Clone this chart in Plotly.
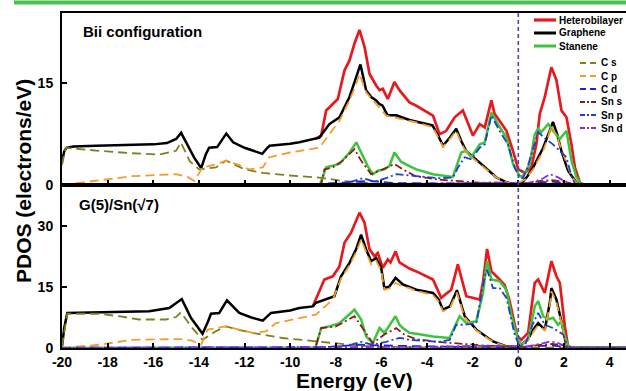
import plotly.graph_objects as go

# ---------------- DATA ----------------
x_ticks = [-20, -18, -16, -14, -12, -10, -8, -6, -4, -2, 0, 2, 4]
y_ticks_top = [0, 15]
y_ticks_bot = [0, 15, 30]
panel_labels = ["Bii configuration", "G(5)/Sn(\u221a7)"]
series_names = ["Heterobilayer", "Graphene", "Stanene", "C s", "C p", "C d", "Sn s", "Sn p", "Sn d"]

# ---- top panel (Bii configuration) ----
top_het_E = [-8.9, -8.64, -8.42, -8.13, -7.91, -7.62, -7.4, -7.18, -6.96, -6.74, -6.52, -6.23, -6.08, -5.94, -5.72,
             -5.43, -5.21, -4.77, -4.47, -3.74, -3.45, -3.16, -2.79, -2.43, -2.21, -1.99, -1.69, -1.47, -1.18, -1.04,
             -0.82, -0.52, -0.23, 0.0, 0.28, 0.57, 0.79, 0.94, 1.16, 1.38, 1.45, 1.67, 1.89, 2.11, 2.33, 2.48, 2.7,
             2.9, 4.8]
top_het_v = [6.8, 7.3, 11.0, 12.0, 12.7, 16.9, 18.4, 20.9, 22.9, 20.4, 16.4, 14.7, 14.0, 14.2, 12.7,
             15.2, 14.0, 12.2, 11.7, 10.25, 7.5, 8.0, 10.0, 11.0, 9.0, 7.3, 9.0, 8.5, 12.5, 10.5,
             9.5, 8.0, 5.0, 2.3, 1.8, 2.6, 6.0, 10.5, 13.0, 16.4, 17.4, 15.5, 11.0, 10.0, 6.0, 2.6, 0.35,
             0.05, 0.05]

top_gra_E = [-20.0, -19.9, -19.8, -19.5, -18.5, -17.0, -16.0, -15.4, -15.0, -14.78, -14.5, -14.2, -13.9, -13.7,
             -13.55, -13.2, -12.8, -12.5, -12.0, -11.5, -11.22, -11.0, -10.9, -10.0, -9.6, -8.72, -8.4, -8.28,
             -7.84, -7.4, -7.15, -6.92, -6.8, -6.67, -6.45, -6.23, -6.1, -5.95, -5.73, -5.35, -4.77, -4.2, -3.76,
             -3.5, -3.3, -3.0, -2.72, -2.5, -2.28, -1.69, -0.96, -0.5, -0.23, 0.0, 0.2, 0.4, 0.65, 1.09, 1.3,
             1.52, 1.7, 1.89, 2.18, 2.55, 2.8, 4.8]
top_gra_v = [3.5, 5.0, 5.5, 5.7, 5.8, 5.9, 6.0, 6.2, 6.8, 7.7, 6.0, 4.0, 2.5, 4.5,
             5.5, 5.6, 7.6, 6.3, 5.5, 4.9, 4.6, 5.5, 5.8, 6.1, 6.3, 7.0, 8.5, 9.0,
             10.0, 13.0, 15.5, 17.8, 16.0, 14.0, 13.0, 12.5, 12.0, 11.7, 10.3, 10.3, 9.6, 9.2, 8.8,
             7.2, 5.8, 7.0, 8.3, 6.5, 5.0, 3.3, 1.1, 0.4, 0.1, 0.2, 0.5, 1.3, 2.6, 5.5, 7.5,
             9.3, 7.5, 5.0, 2.1, 0.35, 0.05, 0.05]

top_sta_E = [-20.0, -8.75, -8.69, -8.42, -8.13, -7.84, -7.4, -7.1, -6.89, -6.6, -6.38, -6.16, -5.87, -5.65, -5.43,
             -5.13, -4.77, -4.47, -3.74, -2.87, -2.5, -2.28, -2.06, -1.69, -1.47, -1.18, -0.89, -0.52, -0.23, 0.06,
             0.21, 0.5, 0.72, 0.87, 1.01, 1.31, 1.52, 1.82, 2.11, 2.33, 2.55, 2.77, 4.8]
top_sta_v = [0.05, 0.05, 0.1, 2.6, 2.8, 3.1, 4.8, 6.3, 4.8, 2.8, 1.6, 2.1, 2.3, 2.8, 4.8,
             3.4, 2.8, 2.3, 1.6, 1.2, 4.8, 5.05, 4.1, 6.0, 6.3, 10.7, 9.0, 7.0, 3.1, 1.3,
             1.3, 3.1, 7.5, 8.3, 7.8, 9.0, 8.0, 6.8, 8.0, 3.6, 1.1, 0.1, 0.05]

top_cs_E = [-20.0, -19.84, -18.38, -17.0, -15.74, -15.0, -14.79, -14.4, -13.99, -13.25, -12.81, -12.0, -11.2,
            -10.0, -8.72, -7.7, -6.23, -5.0, -3.0, 4.8]
top_cs_v = [3.0, 5.5, 5.05, 4.7, 4.5, 5.05, 6.3, 3.5, 2.3, 2.6, 3.6, 2.3, 1.8,
            1.4, 1.1, 0.6, 0.2, 0.1, 0.05, 0.02]

top_cp_E = [-20.0, -19.12, -18.0, -16.93, -15.0, -14.5, -14.2, -13.84, -13.3, -12.81, -12.3, -11.79, -11.2, -10.91,
            -10.0, -9.6, -8.72, -8.28, -7.84, -7.4, -7.15, -6.96, -6.67, -6.45, -6.23, -5.79, -5.5, -5.21, -4.5,
            -3.74, -3.5, -3.3, -3.0, -2.72, -2.5, -2.28, -1.69, -0.96, -0.5, -0.23, 0.0, 0.3, 0.65, 1.09, 1.3,
            1.45, 1.7, 1.97, 2.33, 2.55, 2.8, 4.8]
top_cp_v = [0.0, 0.35, 0.8, 1.3, 1.6, 1.2, 0.6, 2.6, 3.0, 3.6, 3.0, 2.3, 2.6, 4.1,
            4.8, 5.05, 5.5, 7.5, 9.5, 12.5, 14.5, 16.4, 13.7, 12.8, 12.0, 10.25, 10.0, 9.8, 9.3,
            8.5, 7.0, 5.65, 6.8, 8.0, 6.2, 4.8, 3.1, 1.1, 0.4, 0.1, 0.3, 0.8, 2.3, 5.05, 7.0,
            8.8, 7.0, 4.6, 1.3, 0.3, 0.05, 0.02]

top_cd_E = [-20.0, -9.0, -7.5, -6.5, -5.5, -3.0, -1.0, 0.0, 1.0, 1.5, 2.0, 2.5, 4.8]
top_cd_v = [0.05, 0.1, 0.4, 0.6, 0.3, 0.2, 0.3, 0.2, 0.4, 0.5, 0.3, 0.05, 0.02]

top_sns_E = [-20.0, -8.7, -8.64, -8.5, -8.13, -7.7, -7.18, -6.89, -6.45, -5.94, -5.43, -5.06, -4.5, -3.5, -2.5,
             -1.5, -0.5, 0.0, 0.5, 1.0, 1.5, 2.0, 2.5, 4.8]
top_sns_v = [0.0, 0.05, 0.1, 2.3, 2.6, 3.6, 5.3, 3.6, 1.6, 2.3, 3.1, 2.3, 1.3, 0.8, 0.5,
             0.3, 0.2, 0.1, 0.3, 0.6, 0.7, 0.5, 0.05, 0.02]

top_snp_E = [-20.0, -8.7, -7.5, -6.82, -6.3, -5.8, -5.35, -4.5, -3.5, -2.87, -2.64, -2.35, -2.06, -1.69, -1.47,
             -1.18, -0.82, -0.45, -0.16, 0.06, 0.2, 0.35, 0.65, 0.87, 1.2, 1.52, 2.11, 2.33, 2.5, 4.8]
top_snp_v = [0.0, 0.05, 0.3, 1.0, 0.5, 1.0, 1.6, 1.3, 1.0, 1.1, 2.6, 4.1, 3.8, 5.5, 6.0,
             10.25, 8.0, 6.0, 2.6, 1.1, 1.0, 2.1, 5.5, 7.8, 6.8, 6.0, 4.1, 1.3, 0.05, 0.02]

top_snd_E = [-20.0, -8.0, -5.0, -2.0, -1.0, -0.3, 0.3, 0.8, 1.1, 1.38, 1.7, 2.0, 2.3, 2.6, 4.8]
top_snd_v = [0.0, 0.1, 0.2, 0.3, 0.4, 0.3, 0.2, 0.6, 1.0, 1.6, 1.2, 0.6, 0.2, 0.02, 0.02]

# ---- bottom panel (G(5)/Sn(sqrt7)) ----
bot_het_E = [-9.0, -8.94, -8.5, -8.13, -7.84, -7.62, -7.33, -6.96, -6.74, -6.52, -6.3, -6.16, -5.94, -5.72, -5.6,
             -5.38, -5.21, -4.77, -4.47, -3.74, -3.38, -2.94, -2.65, -2.28, -1.69, -1.55, -1.37, -1.18, -0.82,
             -0.6, -0.4, -0.23, -0.05, 0.13, 0.43, 0.72, 0.87, 1.16, 1.38, 1.45, 1.67, 1.82, 2.04, 2.18, 2.4, 4.8]
bot_het_v = [10.2, 11.1, 16.8, 17.6, 20.0, 25.8, 28.3, 33.2, 30.7, 24.2, 22.5, 23.3, 19.7, 21.7, 21.0,
             23.7, 21.0, 19.5, 18.8, 16.8, 12.3, 14.3, 20.5, 12.7, 11.9, 16.0, 24.3, 18.8, 16.8,
             15.5, 12.0, 8.0, 3.0, 2.0, 3.7, 16.0, 16.8, 13.5, 20.0, 21.3, 17.6, 16.0, 5.3, 0.4, 0.05, 0.05]

bot_gra_E = [-20.0, -19.9, -19.77, -18.38, -17.0, -16.18, -15.3, -14.75, -14.35, -13.84, -13.6, -13.47, -13.11,
             -12.77, -12.23, -11.7, -11.2, -10.84, -10.0, -9.6, -9.01, -8.87, -8.06, -7.77, -7.4, -7.11, -6.89,
             -6.67, -6.45, -6.23, -6.01, -5.87, -5.65, -5.38, -5.06, -4.77, -4.47, -3.74, -3.5, -3.3, -3.0,
             -2.69, -2.35, -1.84, -1.11, -0.52, -0.2, 0.13, 0.4, 0.65, 0.87, 1.16, 1.38, 1.45, 1.67, 1.97,
             2.11, 2.3, 4.8]
bot_gra_v = [0.4, 5.0, 8.6, 8.75, 8.9, 9.0, 9.8, 12.0, 7.4, 3.5, 6.5, 8.4, 8.6,
             11.7, 8.6, 7.5, 6.7, 8.6, 9.2, 9.8, 10.2, 11.1, 12.7, 17.6, 20.9, 24.2, 27.8,
             24.2, 21.3, 22.1, 19.7, 14.7, 15.1, 17.2, 15.6, 15.0, 14.3, 13.5, 12.0, 9.4, 10.2,
             14.2, 7.8, 4.5, 1.6, 0.4, 0.1, 0.8, 2.0, 4.5, 6.1, 4.5, 11.1, 14.7, 11.9, 4.5,
             0.4, 0.05, 0.05]

bot_sta_E = [-20.0, -8.95, -8.87, -8.64, -8.28, -7.84, -7.18, -6.89, -6.67, -6.38, -6.08, -5.87, -5.38, -5.21,
             -5.06, -4.77, -4.47, -3.74, -3.02, -2.79, -2.57, -2.28, -1.84, -1.55, -1.37, -1.18, -0.82, -0.52,
             -0.3, -0.16, 0.0, 0.13, 0.43, 0.72, 0.87, 1.09, 1.31, 1.52, 1.74, 1.89, 2.04, 2.18, 2.4, 4.8]
bot_sta_v = [0.05, 0.05, 0.4, 4.9, 5.3, 6.1, 9.4, 7.0, 2.85, 1.2, 4.9, 3.7, 7.8, 5.7,
             4.9, 3.7, 3.5, 2.85, 2.45, 5.3, 7.8, 6.1, 6.6, 13.5, 21.3, 16.8, 16.4, 14.3,
             8.0, 5.0, 2.0, 0.8, 2.0, 10.2, 11.5, 7.8, 7.0, 7.4, 5.7, 6.5, 2.85, 0.4, 0.05, 0.05]

bot_cs_E = [-20.0, -19.77, -18.38, -17.5, -16.62, -15.45, -15.0, -14.79, -14.3, -13.84, -13.3, -12.81, -12.2,
            -11.64, -10.33, -8.87, -8.0, -7.0, -6.0, -4.0, 4.8]
bot_cs_v = [0.4, 8.4, 8.4, 7.8, 7.0, 7.0, 7.6, 8.75, 5.0, 2.0, 4.0, 5.3, 4.4,
            3.7, 2.45, 1.6, 1.0, 0.6, 0.3, 0.1, 0.03]

bot_cp_E = [-20.0, -19.5, -18.38, -16.91, -14.86, -14.3, -13.91, -13.62, -12.81, -11.64, -11.06, -10.62, -9.6,
            -8.87, -8.13, -7.77, -7.4, -7.11, -6.89, -6.67, -6.45, -6.23, -6.01, -5.87, -5.65, -5.38, -5.06,
            -4.77, -4.47, -3.74, -3.5, -3.3, -3.0, -2.69, -2.35, -1.84, -1.11, -0.52, -0.2, 0.13, 0.4, 0.65,
            0.87, 1.16, 1.38, 1.45, 1.67, 1.97, 2.11, 2.3, 4.8]
bot_cp_v = [0.0, 0.3, 0.8, 2.0, 2.2, 1.8, 0.8, 4.5, 5.3, 3.7, 4.1, 6.1, 7.4,
            8.2, 11.9, 17.0, 20.3, 23.5, 26.6, 23.5, 20.5, 21.4, 19.0, 14.3, 14.6, 16.0, 15.0,
            14.7, 14.0, 13.0, 11.5, 9.0, 9.8, 13.6, 7.5, 4.3, 1.5, 0.4, 0.1, 0.7, 1.8, 3.9,
            5.6, 4.3, 10.5, 13.9, 11.3, 4.3, 0.4, 0.05, 0.02]

bot_cd_E = [-20.0, -8.5, -7.0, -6.0, -5.0, -3.0, -1.0, 0.0, 1.0, 1.5, 2.0, 2.4, 4.8]
bot_cd_v = [0.05, 0.2, 0.8, 0.6, 0.5, 0.3, 0.3, 0.2, 0.5, 0.6, 0.3, 0.05, 0.02]

bot_sns_E = [-20.0, -8.9, -8.64, -7.99, -7.18, -6.82, -6.38, -5.87, -5.35, -5.0, -4.5, -3.5, -2.5, -1.5, -0.5,
             0.0, 0.5, 1.0, 1.5, 2.0, 2.3, 4.8]
bot_sns_v = [0.0, 0.05, 4.9, 5.3, 7.8, 4.9, 1.2, 3.3, 4.9, 3.3, 2.2, 1.5, 1.0, 0.6, 0.4,
             0.2, 0.4, 0.8, 1.0, 0.6, 0.05, 0.02]

bot_snp_E = [-20.0, -8.9, -7.5, -6.9, -6.4, -5.8, -5.2, -4.77, -3.5, -3.0, -2.72, -2.35, -1.84, -1.47, -1.37,
             -1.11, -0.82, -0.52, -0.16, 0.05, 0.3, 0.65, 0.87, 1.16, 1.52, 1.97, 2.15, 2.4, 4.8]
bot_snp_v = [0.0, 0.05, 0.5, 1.5, 0.8, 1.5, 2.5, 2.0, 1.5, 2.0, 5.7, 5.7, 6.1, 17.6, 19.2,
             14.7, 14.7, 12.3, 3.3, 0.4, 0.8, 6.1, 8.6, 5.7, 4.9, 3.3, 0.3, 0.02, 0.02]

bot_snd_E = [-20.0, -8.0, -4.0, -2.0, -1.0, -0.3, 0.3, 0.8, 1.1, 1.4, 1.7, 2.0, 2.3, 4.8]
bot_snd_v = [0.0, 0.2, 0.3, 0.5, 0.6, 0.5, 0.3, 0.8, 1.2, 1.6, 1.3, 0.6, 0.05, 0.02]

# ---------------- STYLE ----------------
colors = ["#e8191e", "#000000", "#3cc43c", "#7f7f1f", "#f39c2a", "#1f1fdf", "#8b1c1c", "#1f3fd0", "#8a2be2"]
dashes = ["solid", "solid", "solid",
          "9px,5px", "9px,5px", "9px,5px",
          "8px,3px,2px,3px", "8px,3px,2px,3px", "8px,3px,2px,3px"]
widths = [2.7, 2.5, 2.5, 1.8, 1.8, 1.8, 1.8, 1.8, 1.8]
FONT = "Liberation Sans, Arial, sans-serif"

W, H = 626, 391
ML, MR, MT, MB = 62, 0, 13, 43
PW, PH = W - ML - MR, H - MT - MB


def px_x(px):
    return (px - ML) / PW


def px_y(py):
    return (H - MB - py) / PH


split = px_y(185)

top_data = [(top_het_E, top_het_v), (top_gra_E, top_gra_v), (top_sta_E, top_sta_v),
            (top_cs_E, top_cs_v), (top_cp_E, top_cp_v), (top_cd_E, top_cd_v),
            (top_sns_E, top_sns_v), (top_snp_E, top_snp_v), (top_snd_E, top_snd_v)]
bot_data = [(bot_het_E, bot_het_v), (bot_gra_E, bot_gra_v), (bot_sta_E, bot_sta_v),
            (bot_cs_E, bot_cs_v), (bot_cp_E, bot_cp_v), (bot_cd_E, bot_cd_v),
            (bot_sns_E, bot_sns_v), (bot_snp_E, bot_snp_v), (bot_snd_E, bot_snd_v)]

fig = go.Figure()
for i, (E, v) in enumerate(top_data):
    fig.add_trace(go.Scatter(x=E, y=v, mode="lines", name=series_names[i], showlegend=False,
                             line=dict(color=colors[i], width=widths[i], dash=dashes[i]),
                             xaxis="x", yaxis="y"))
for i, (E, v) in enumerate(bot_data):
    fig.add_trace(go.Scatter(x=E, y=v, mode="lines", name=series_names[i], showlegend=False,
                             line=dict(color=colors[i], width=widths[i], dash=dashes[i]),
                             xaxis="x2", yaxis="y2"))

axis_common = dict(showline=True, linewidth=2, linecolor="black", showgrid=False, zeroline=False,
                   ticks="inside", ticklen=5, tickwidth=1.5, tickcolor="black",
                   tickfont=dict(family=FONT, size=14, color="black", weight="bold"))

fig.update_layout(
    width=W, height=H, margin=dict(l=ML, r=MR, t=MT, b=MB),
    paper_bgcolor="white", plot_bgcolor="white",
    font=dict(family=FONT, color="black"),
    xaxis=dict(domain=[0, 1], anchor="y", range=[-20, 4.72], tickvals=x_ticks, showticklabels=False,
               mirror=True, **axis_common),
    yaxis=dict(domain=[split, 1], anchor="x", range=[0, 25.4], tickvals=y_ticks_top, mirror=False,
               ticklabelstandoff=4, **axis_common),
    xaxis2=dict(domain=[0, 1], anchor="y2", range=[-20, 4.72], tickvals=x_ticks,
                ticktext=[str(t) for t in x_ticks], mirror=True, **axis_common),
    yaxis2=dict(domain=[0, split], anchor="x2", range=[0, 40], tickvals=y_ticks_bot, mirror=False,
                ticklabelstandoff=4, **axis_common),
)

shapes = []
# Fermi level line at E = 0
shapes.append(dict(type="line", xref="x2", yref="paper", x0=0, x1=0, y0=px_y(360), y1=1,
                   line=dict(color="#4545c8", width=1.6, dash="4px,3px")))
# decorative green bar at the very top
shapes.append(dict(type="rect", xref="paper", yref="paper", x0=px_x(14), x1=1, y0=px_y(4.5), y1=px_y(0.5),
                   line=dict(width=0), fillcolor="#4cbf55"))

annotations = []
# panel labels
annotations.append(dict(text="<b>%s</b>" % panel_labels[0], xref="paper", yref="paper", x=px_x(81), y=px_y(31),
                        xanchor="left", yanchor="middle", showarrow=False,
                        font=dict(family=FONT, size=15, color="black")))
annotations.append(dict(text="<b>%s</b>" % panel_labels[1], xref="paper", yref="paper", x=px_x(77), y=px_y(204),
                        xanchor="left", yanchor="middle", showarrow=False,
                        font=dict(family=FONT, size=15, color="black")))
# axis titles
annotations.append(dict(text="<b>PDOS (electrons/eV)</b>", xref="paper", yref="paper", x=px_x(23), y=px_y(181),
                        xanchor="center", yanchor="middle", textangle=-90, showarrow=False,
                        font=dict(family=FONT, size=21, color="black")))
annotations.append(dict(text="<b>Energy (eV)</b>", xref="paper", yref="paper", x=px_x(355), y=px_y(380),
                        xanchor="center", yanchor="middle", showarrow=False,
                        font=dict(family=FONT, size=21, color="black")))

# manual legend (compact, like the reference)
leg_y = [20, 33, 46, 63, 76, 89, 102, 115, 128]
for i, name in enumerate(series_names):
    if i < 3:
        x0, x1, tx = 534, 556, 557
    else:
        x0, x1, tx = 580, 597, 599
    shapes.append(dict(type="line", xref="paper", yref="paper", x0=px_x(x0), x1=px_x(x1),
                       y0=px_y(leg_y[i]), y1=px_y(leg_y[i]),
                       line=dict(color=colors[i], width=widths[i] + 0.5 if i < 3 else widths[i],
                                 dash="solid" if i < 3 else ("6px,4px" if i < 6 else "5px,2px,2px,2px"))))
    annotations.append(dict(text="<b>%s</b>" % name, xref="paper", yref="paper", x=px_x(tx), y=px_y(leg_y[i]),
                            xanchor="left", yanchor="middle", showarrow=False,
                            font=dict(family=FONT, size=10, color="black")))

fig.update_layout(shapes=shapes, annotations=annotations)
fig.write_html("out.html", config={"displayModeBar": False},
               post_script="document.body.style.margin='0';document.body.style.overflow='hidden';")
